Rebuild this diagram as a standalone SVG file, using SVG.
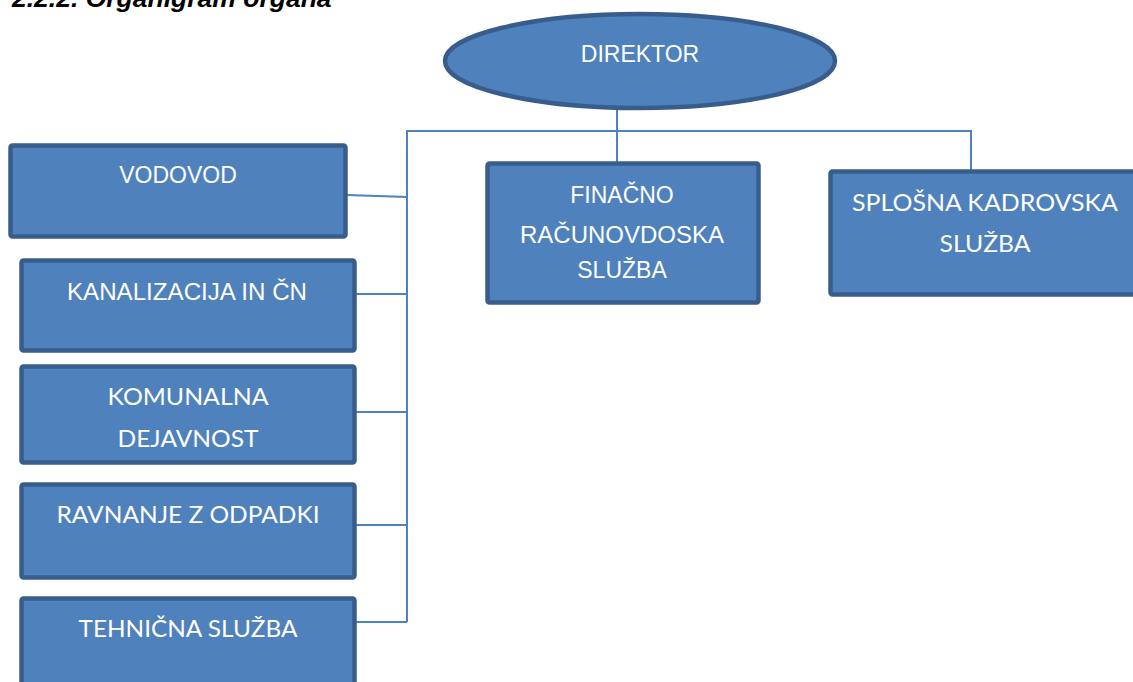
<svg xmlns="http://www.w3.org/2000/svg" width="1133" height="682" viewBox="0 0 1133 682">
<style>
.box{fill:#4F81BD;stroke:#385D8A;stroke-width:4.5}
.t{fill:#ffffff;font-family:"Liberation Sans",Arial,sans-serif;font-size:23px;text-anchor:middle}
.c{fill:#ffffff;font-family:Lato,"Open Sans",sans-serif;font-size:24px;text-anchor:middle}
.ln{fill:none;stroke:#4F81BD;stroke-width:2}
</style>
<rect width="1133" height="682" fill="#ffffff"/>
<text x="12" y="7" font-family="Liberation Sans,Arial,sans-serif" font-size="26.5" font-weight="bold" font-style="italic" fill="#000">2.2.2. Organigram organa</text>
<g id="connectors">
<path class="ln" d="M617 92 V163"/>
<path class="ln" d="M407 622 V131 H971 V175"/>
<path class="ln" d="M347 195 L407 197"/>
<path class="ln" d="M355 294 H407"/>
<path class="ln" d="M356 412 H407"/>
<path class="ln" d="M356 525 H407"/>
<path class="ln" d="M355 622 H407"/>
</g>
<g id="direktor">
<ellipse class="box" cx="640" cy="61" rx="195" ry="47"/>
<text class="t" x="640" y="62">DIREKTOR</text>
</g>
<g id="vodovod">
<rect class="box" x="10.5" y="145.5" width="335" height="91" rx="2"/>
<text class="t" x="178" y="183">VODOVOD</text>
</g>
<g id="kanalizacija">
<rect class="box" x="21.5" y="260.5" width="333" height="90" rx="2"/>
<text class="t" x="187" y="300" textLength="240" lengthAdjust="spacingAndGlyphs">KANALIZACIJA IN ČN</text>
</g>
<g id="komunalna">
<rect class="box" x="21.5" y="366.5" width="333" height="96" rx="2"/>
<text class="c" x="188" y="405" textLength="161" lengthAdjust="spacingAndGlyphs">KOMUNALNA</text>
<text class="c" x="188" y="447" textLength="141" lengthAdjust="spacingAndGlyphs">DEJAVNOST</text>
</g>
<g id="ravnanje">
<rect class="box" x="21.5" y="484.5" width="333" height="93" rx="2"/>
<text class="c" x="188" y="523" textLength="263" lengthAdjust="spacingAndGlyphs">RAVNANJE Z ODPADKI</text>
</g>
<g id="tehnicna">
<rect class="box" x="21.5" y="598.5" width="333" height="100" rx="2"/>
<text class="c" x="188" y="637" textLength="219" lengthAdjust="spacingAndGlyphs">TEHNIČNA SLUŽBA</text>
</g>
<g id="financno">
<rect class="box" x="487.5" y="163.5" width="271" height="139" rx="2"/>
<text class="t" x="622" y="203">FINAČNO</text>
<text class="t" x="622" y="243" textLength="204" lengthAdjust="spacingAndGlyphs">RAČUNOVDOSKA</text>
<text class="t" x="622" y="278">SLUŽBA</text>
</g>
<g id="splosna">
<rect class="box" x="830.5" y="171.5" width="320" height="123" rx="2"/>
<text class="c" x="985" y="211" textLength="266" lengthAdjust="spacingAndGlyphs">SPLOŠNA KADROVSKA</text>
<text class="c" x="985" y="252" textLength="91" lengthAdjust="spacingAndGlyphs">SLUŽBA</text>
</g>
</svg>
